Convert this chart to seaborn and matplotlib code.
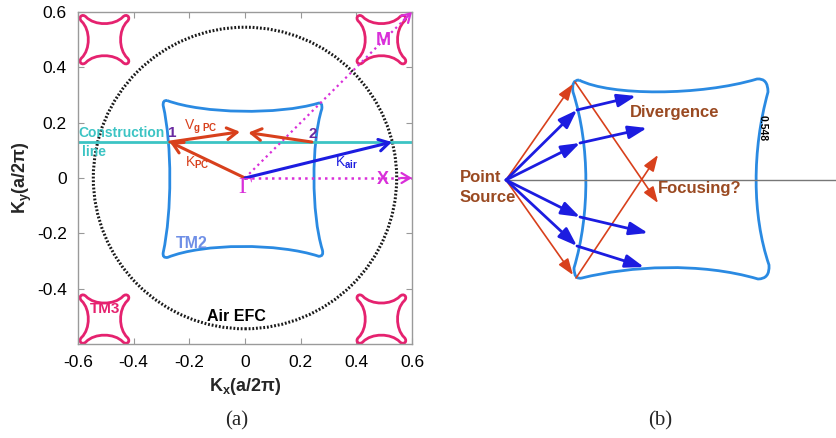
import numpy as np
import matplotlib
matplotlib.use("Agg")
import matplotlib.pyplot as plt
from matplotlib.path import Path
from matplotlib.patches import PathPatch, Circle
import seaborn as sns

# ---------------- panel (a): equi-frequency contours in k-space ----------------
x_ticks = [-0.6, -0.4, -0.2, 0, 0.2, 0.4, 0.6]
x_tick_labels = ["-0.6", "-0.4", "-0.2", "0", "0.2", "0.4", "0.6"]
y_ticks = [-0.4, -0.2, 0, 0.2, 0.4, 0.6]
y_tick_labels = ["-0.4", "-0.2", "0", "0.2", "0.4", "0.6"]

air_radius = 0.545

# TM2 contour (Bezier vertices, M = move, C = cubic, Q = quadratic)
tm2_segments = "MCQCQCQCQ"
tm2_kx = [-0.280,
          -0.150, 0.120, 0.262,
          0.279, 0.276,
          0.238, 0.238, 0.278,
          0.284, 0.265,
          0.120, -0.150, -0.278,
          -0.297, -0.294,
          -0.262, -0.262, -0.294,
          -0.296, -0.280]
tm2_ky = [0.280,
          0.232, 0.228, 0.270,
          0.276, 0.250,
          0.130, -0.130, -0.260,
          -0.283, -0.283,
          -0.235, -0.235, -0.287,
          -0.290, -0.270,
          -0.120, 0.120, 0.262,
          0.282, 0.280]

# TM3 star contour around each M point (offsets from its centre)
tm3_segments = "MCCCCCCCC"
tm3_dx = [-0.066,
          -0.035, 0.035, 0.066,
          0.0800, 0.0964, 0.082,
          0.050, 0.050, 0.082,
          0.0964, 0.0800, 0.066,
          0.035, -0.035, -0.066,
          -0.0800, -0.0964, -0.082,
          -0.050, -0.050, -0.082,
          -0.0964, -0.0800, -0.066]
tm3_dy = [0.082,
          0.050, 0.050, 0.082,
          0.0964, 0.0800, 0.066,
          0.035, -0.035, -0.066,
          -0.0800, -0.0964, -0.082,
          -0.050, -0.050, -0.082,
          -0.0964, -0.0800, -0.066,
          -0.035, 0.035, 0.066,
          0.0800, 0.0964, 0.082]
tm3_center_kx = [-0.505, 0.490, -0.505, 0.490]
tm3_center_ky = [0.500, 0.500, -0.510, -0.510]

construction_kx = [-0.6, 0.6]
construction_ky = [0.13, 0.13]

gamma_x_kx = [0.0, 0.6]
gamma_x_ky = [0.0, 0.0]
gamma_m_kx = [0.0, 0.6]
gamma_m_ky = [0.0, 0.6]

point1 = (-0.270, 0.130)
point2 = (0.240, 0.130)
k_air_tip = (0.528, 0.130)
vg1_tip = (-0.018, 0.167)
vg2_tip = (0.012, 0.164)

# ---------------- panel (b): ray schematic (pixel-like units, y down) ----------------
lens_segments = "MCQCQCQCQ"
lens_x = [579, 610, 700, 757, 768, 768, 752, 752, 769, 770, 758,
          700, 630, 582, 574, 574, 590, 590, 573, 571, 579]
lens_y = [80, 96, 96, 79, 78, 92, 150, 215, 265, 279, 279,
          262, 266, 278, 280, 268, 215, 145, 92, 80, 80]

source = (506, 180)
axis_line_x = [506, 837]
axis_line_y = [180, 180]

red_start_x = [506, 506, 575, 576]
red_start_y = [180, 180, 82, 278]
red_end_x = [573, 573, 658, 658]
red_end_y = [84, 275, 203, 155]

blue_hit_x = [577, 580, 580, 577]
blue_hit_y = [110, 143, 217, 246]
blue_out_x = [636, 647, 648, 644]
blue_out_y = [96, 128, 233, 267]

# ---------------- style ----------------
sns.set_theme(style="white")
plt.rcParams.update({
    "font.family": ["Liberation Sans", "DejaVu Sans"],
    "mathtext.fontset": "custom",
    "mathtext.rm": "Liberation Sans:bold",
    "mathtext.bf": "Liberation Sans:bold",
    "mathtext.it": "Liberation Sans:bold",
    "mathtext.default": "rm",
})

RED = "#d8401c"
BLUE = "#1c1ce0"
EFC_BLUE = "#2a8ae2"
PINK = "#e5226f"
MAGENTA = "#d92fd9"
CYAN = "#3cc4c4"
PURPLE = "#6a2aa0"
BROWN = "#9a4a22"

SEG_CODES = {"M": [Path.MOVETO], "C": [Path.CURVE4] * 3, "Q": [Path.CURVE3] * 2}


def contour_path(xs, ys, segments):
    codes = [c for s in segments for c in SEG_CODES[s]]
    return Path(np.column_stack([xs, ys]), codes)


def arrow(ax, start, end, color, lw, style, scale=12, ls="-"):
    ax.annotate("", xy=end, xytext=start,
                arrowprops=dict(arrowstyle=style, color=color, lw=lw, ls=ls,
                                shrinkA=0, shrinkB=0, mutation_scale=scale))


fig = plt.figure(figsize=(8.37, 4.38), dpi=100)

# ---------------- panel (a) ----------------
ax = fig.add_axes([78 / 837, 1 - 344 / 438, 334 / 837, 332 / 438])
ax.set_xlim(-0.6, 0.6)
ax.set_ylim(-0.6, 0.6)

ax.add_patch(Circle((0, 0), air_radius, fill=False, color="#1a1a1a",
                    lw=2.2, ls=(0, (0.6, 0.6))))
ax.add_patch(PathPatch(contour_path(tm2_kx, tm2_ky, tm2_segments),
                       fill=False, ec=EFC_BLUE, lw=2))
for cx, cy in zip(tm3_center_kx, tm3_center_ky):
    ax.add_patch(PathPatch(contour_path(np.add(tm3_dx, cx), np.add(tm3_dy, cy),
                                        tm3_segments),
                           fill=False, ec=PINK, lw=2))

sns.lineplot(x=construction_kx, y=construction_ky, ax=ax, color=CYAN, lw=2)
sns.lineplot(x=gamma_x_kx, y=gamma_x_ky, ax=ax, color=MAGENTA, lw=1.8, ls=":")
sns.lineplot(x=gamma_m_kx, y=gamma_m_ky, ax=ax, color=MAGENTA, lw=1.6, ls=":")

# arrow heads at the ends of the symmetry lines
head = "->,head_length=0.5,head_width=0.3"
arrow(ax, (gamma_x_kx[1] - 0.04, gamma_x_ky[1]), (gamma_x_kx[1], gamma_x_ky[1]),
      MAGENTA, 1.6, head)
arrow(ax, (gamma_m_kx[1] - 0.03, gamma_m_ky[1] - 0.03), (gamma_m_kx[1], gamma_m_ky[1]),
      MAGENTA, 1.6, head)

thick = "->,head_length=0.6,head_width=0.35"
arrow(ax, (0, 0), point1, RED, 2.2, thick)
arrow(ax, (0, 0), k_air_tip, BLUE, 2.2, thick)
arrow(ax, point1, vg1_tip, RED, 2.2, thick)
arrow(ax, point2, vg2_tip, RED, 2.2, thick)

ax.text(0.0, -0.035, "Γ", family="Liberation Serif", fontsize=17, color=MAGENTA,
        ha="center", va="center")
ax.text(0.497, 0.496, "M", fontsize=13, fontweight="bold", color=MAGENTA,
        ha="center", va="center")
ax.text(0.497, -0.005, "X", fontsize=13, fontweight="bold", color=MAGENTA,
        ha="center", va="center")
ax.text(-0.263, 0.162, "1", fontsize=11, fontweight="bold", color=PURPLE,
        ha="center", va="center")
ax.text(0.242, 0.160, "2", fontsize=11, fontweight="bold", color=PURPLE,
        ha="center", va="center")
ax.text(-0.22, 0.185, r"V$_{\rm g\ PC}$", fontsize=10, color=RED,
        ha="left", va="center")
ax.text(-0.215, 0.055, r"K$_{\rm PC}$", fontsize=10, color=RED,
        ha="left", va="center")
ax.text(0.325, 0.055, r"K$_{\rm air}$", fontsize=10, color=BLUE,
        ha="left", va="center")
ax.text(-0.6, 0.162, "Construction", fontsize=10, fontweight="bold", color=CYAN,
        ha="left", va="center")
ax.text(-0.585, 0.094, "line", fontsize=10, fontweight="bold", color=CYAN,
        ha="left", va="center")
ax.text(-0.19, -0.235, "TM2", fontsize=11.5, fontweight="bold", color="#6f8fe6",
        ha="center", va="center")
ax.text(-0.504, -0.475, "TM3", fontsize=11, fontweight="bold", color=PINK,
        ha="center", va="center")
ax.text(-0.03, -0.5, "Air EFC", fontsize=11.5, fontweight="bold", color="black",
        ha="center", va="center")

ax.set_xticks(x_ticks)
ax.set_xticklabels(x_tick_labels)
ax.set_yticks(y_ticks)
ax.set_yticklabels(y_tick_labels)
ax.tick_params(direction="in", length=4, width=0.8, color="#999999",
               labelsize=12.5, labelcolor="black", pad=8,
               bottom=True, left=True, top=True, right=True)
for sp in ax.spines.values():
    sp.set_color("#9a9a9a")
    sp.set_linewidth(1.0)
ax.set_xlabel(r"K$_{\rm x}$(a/2π)", fontsize=13, fontweight="bold", labelpad=4)
ax.set_ylabel(r"K$_{\rm y}$(a/2π)", fontsize=13, fontweight="bold", labelpad=2)

# ---------------- panel (b) ----------------
bx = fig.add_axes([418.5 / 837, 0, 418.5 / 837, 1])
bx.set_xlim(418.5, 837)
bx.set_ylim(438, 0)
bx.axis("off")

sns.lineplot(x=axis_line_x, y=axis_line_y, ax=bx, color="#777777", lw=1.0)
bx.add_patch(PathPatch(contour_path(lens_x, lens_y, lens_segments),
                       fill=False, ec=EFC_BLUE, lw=2))

thin_head = "-|>,head_length=0.7,head_width=0.25"
for x0, y0, x1, y1 in zip(red_start_x, red_start_y, red_end_x, red_end_y):
    arrow(bx, (x0, y0), (x1, y1), RED, 1.2, thin_head, scale=14)

blue_head = "-|>,head_length=0.8,head_width=0.28"
for xh, yh, xo, yo in zip(blue_hit_x, blue_hit_y, blue_out_x, blue_out_y):
    arrow(bx, source, (xh, yh), BLUE, 2.0, blue_head, scale=14)
    arrow(bx, (xh, yh), (xo, yo), BLUE, 2.0, blue_head, scale=14)

bx.text(460, 178, "Point", fontsize=12, fontweight="bold", color=BROWN,
        ha="left", va="center")
bx.text(460, 198, "Source", fontsize=12, fontweight="bold", color=BROWN,
        ha="left", va="center")
bx.text(630, 113, "Divergence", fontsize=12, fontweight="bold", color=BROWN,
        ha="left", va="center")
bx.text(658, 188, "Focusing?", fontsize=12, fontweight="bold", color=BROWN,
        ha="left", va="center")
bx.text(763, 128, "0.548", fontsize=7.5, fontweight="bold", color="black",
        ha="center", va="center", rotation=-90)

# ---------------- captions ----------------
fig.text(237 / 837, 1 - 421 / 438, "(a)", family="Liberation Serif", fontsize=15,
         ha="center", va="center")
fig.text(660 / 837, 1 - 421 / 438, "(b)", family="Liberation Serif", fontsize=15,
         ha="center", va="center")

fig.savefig("out.png", dpi=100)
